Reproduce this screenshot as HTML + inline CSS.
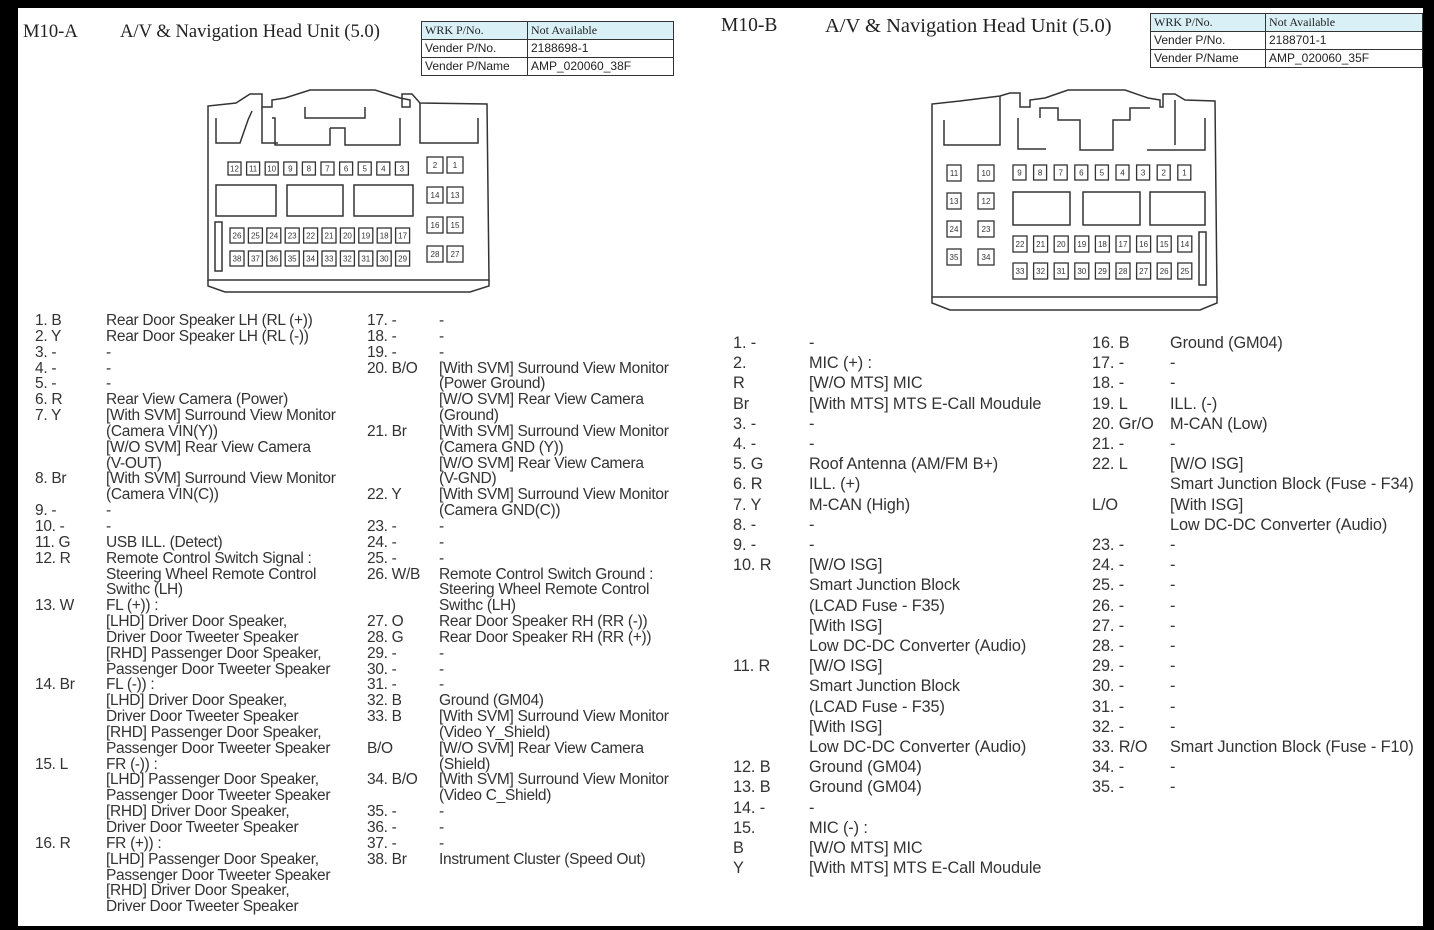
<!DOCTYPE html>
<html><head><meta charset="utf-8"><style>
body{margin:0;width:1434px;height:930px;background:#000;overflow:hidden;position:relative;font-family:"Liberation Sans",Arial,sans-serif;}
#page{position:absolute;left:18px;top:8px;width:1405px;height:918px;background:#fff;}
.t{position:absolute;white-space:pre;color:#333;}
.L{font-size:15.5px;line-height:15.85px;letter-spacing:-0.3px;}
.R{font-size:16.3px;line-height:20.2px;letter-spacing:-0.1px;}
.h{position:absolute;font-family:"Liberation Serif",serif;font-size:18.6px;color:#222;white-space:pre;}
table{position:absolute;border-collapse:collapse;font-size:12px;color:#222;}
td{border:1.5px solid #333;padding:0 3px;height:17px;line-height:15px;}
tr:first-child td{background:#d9f0f7;font-family:"Liberation Serif",serif;}
svg{position:absolute;left:0;top:0;}
</style></head><body>
<div id="page"></div>
<div class="h" style="left:23px;top:21px">M10-A</div>
<div class="h" style="left:120px;top:21px">A/V &amp; Navigation Head Unit (5.0)</div>
<table style="left:421px;top:21px;width:253px"><tr><td style="width:99px">WRK P/No.</td><td>Not Available</td></tr><tr><td>Vender P/No.</td><td>2188698-1</td></tr><tr><td>Vender P/Name</td><td>AMP_020060_38F</td></tr></table>
<div class="h" style="left:721px;top:15px;font-size:19.5px">M10-B</div>
<div class="h" style="left:825px;top:15px;font-size:20.5px">A/V &amp; Navigation Head Unit (5.0)</div>
<table style="left:1150px;top:13px;width:273px"><tr><td style="width:108px">WRK P/No.</td><td>Not Available</td></tr><tr><td>Vender P/No.</td><td>2188701-1</td></tr><tr><td>Vender P/Name</td><td>AMP_020060_35F</td></tr></table>

<svg width="1434" height="930" id="sv">
<g fill="none" stroke="#333" stroke-width="1.5">
<path d="M208,280 L208,106 L236,103 L250,94 L262,94 L262,107 L272,107 L272,100 L285,98 L310,90 L375,90 L400,98 L410,100 L410,107 L402,107 L402,94 L412,94 L420,103 L487,104 L489,280 Z"/>
<path d="M208,280 L208,286 L225,292 L470,292 L489,286 L489,280"/>
<path d="M216,118 L216,143 L240,143 L248,120 L252,111 M262,107 L262,143 L278,143 M272,118 L275,118 L275,145 L330,145 L330,128 M305,107 L305,118 L365,118 L365,107 M330,128 L345,128 L345,145 L400,145 L400,118 M420,103 L420,143 L478,143 L478,118"/>
<rect x="216" y="185" width="60" height="31"/><rect x="287" y="185" width="56" height="31"/><rect x="354" y="185" width="59" height="31"/>
<rect x="215" y="222" width="7" height="49"/>
<path d="M932,297 L932,104 L960,101 L1000,96 L1010,93 L1020,93 L1020,107 L1030,107 L1030,100 L1045,98 L1068,90 L1125,90 L1148,98 L1160,100 L1160,107 L1163,107 L1163,94 L1175,94 L1185,100 L1215,101 L1217,297 Z"/>
<path d="M932,297 L932,303 L950,310 L1200,310 L1217,303 L1217,297"/>
<path d="M944,120 L944,145 L1000,145 L1000,96 M1018,118 L1018,149 L1046,149 M1040,118 L1040,108 L1058,108 L1058,120 L1080,120 L1080,150 L1113,150 L1113,120 L1130,120 L1130,108 L1150,108 M1147,150 L1205,150 L1205,118 M1175,100 L1175,145"/>
<rect x="1013" y="192" width="57" height="33"/><rect x="1083" y="192" width="57" height="33"/><rect x="1150" y="192" width="55" height="33"/>
<rect x="1199" y="232" width="7" height="53"/>
</g>
<g id="pins" fill="none" stroke="#333" stroke-width="1.3" font-size="8" font-family="Liberation Sans" text-anchor="middle"></g>
</svg>

<div class="t L" style="left:35px;top:313px">1. B
2. Y
3. -
4. -
5. -
6. R
7. Y



8. Br

9. -
10. -
11. G
12. R


13. W




14. Br




15. L




16. R</div>
<div class="t L" style="left:106px;top:313px">Rear Door Speaker LH (RL (+))
Rear Door Speaker LH (RL (-))
-
-
-
Rear View Camera (Power)
[With SVM] Surround View Monitor
(Camera VIN(Y))
[W/O SVM] Rear View Camera
(V-OUT)
[With SVM] Surround View Monitor
(Camera VIN(C))
-
-
USB ILL. (Detect)
Remote Control Switch Signal :
Steering Wheel Remote Control
Swithc (LH)
FL (+)) :
[LHD] Driver Door Speaker,
Driver Door Tweeter Speaker
[RHD] Passenger Door Speaker,
Passenger Door Tweeter Speaker
FL (-)) :
[LHD] Driver Door Speaker,
Driver Door Tweeter Speaker
[RHD] Passenger Door Speaker,
Passenger Door Tweeter Speaker
FR (-)) :
[LHD] Passenger Door Speaker,
Passenger Door Tweeter Speaker
[RHD] Driver Door Speaker,
Driver Door Tweeter Speaker
FR (+)) :
[LHD] Passenger Door Speaker,
Passenger Door Tweeter Speaker
[RHD] Driver Door Speaker,
Driver Door Tweeter Speaker</div>
<div class="t L" style="left:367px;top:313px">17. -
18. -
19. -
20. B/O



21. Br



22. Y

23. -
24. -
25. -
26. W/B


27. O
28. G
29. -
30. -
31. -
32. B
33. B

B/O

34. B/O

35. -
36. -
37. -
38. Br</div>
<div class="t L" style="left:439px;top:313px">-
-
-
[With SVM] Surround View Monitor
(Power Ground)
[W/O SVM] Rear View Camera
(Ground)
[With SVM] Surround View Monitor
(Camera GND (Y))
[W/O SVM] Rear View Camera
(V-GND)
[With SVM] Surround View Monitor
(Camera GND(C))
-
-
-
Remote Control Switch Ground :
Steering Wheel Remote Control
Swithc (LH)
Rear Door Speaker RH (RR (-))
Rear Door Speaker RH (RR (+))
-
-
-
Ground (GM04)
[With SVM] Surround View Monitor
(Video Y_Shield)
[W/O SVM] Rear View Camera
(Shield)
[With SVM] Surround View Monitor
(Video C_Shield)
-
-
-
Instrument Cluster (Speed Out)</div>

<div class="t R" style="left:733px;top:333px">1. -
2.
R
Br
3. -
4. -
5. G
6. R
7. Y
8. -
9. -
10. R




11. R




12. B
13. B
14. -
15.
B
Y</div>
<div class="t R" style="left:809px;top:333px">-
MIC (+) :
[W/O MTS] MIC
[With MTS] MTS E-Call Moudule
-
-
Roof Antenna (AM/FM B+)
ILL. (+)
M-CAN (High)
-
-
[W/O ISG]
Smart Junction Block
(LCAD Fuse - F35)
[With ISG]
Low DC-DC Converter (Audio)
[W/O ISG]
Smart Junction Block
(LCAD Fuse - F35)
[With ISG]
Low DC-DC Converter (Audio)
Ground (GM04)
Ground (GM04)
-
MIC (-) :
[W/O MTS] MIC
[With MTS] MTS E-Call Moudule</div>
<div class="t R" style="left:1092px;top:333px">16. B
17. -
18. -
19. L
20. Gr/O
21. -
22. L

L/O

23. -
24. -
25. -
26. -
27. -
28. -
29. -
30. -
31. -
32. -
33. R/O
34. -
35. -</div>
<div class="t R" style="left:1170px;top:333px">Ground (GM04)
-
-
ILL. (-)
M-CAN (Low)
-
[W/O ISG]
Smart Junction Block (Fuse - F34)
[With ISG]
Low DC-DC Converter (Audio)
-
-
-
-
-
-
-
-
-
-
Smart Junction Block (Fuse - F10)
-
-</div>
<script>
var g=document.getElementById('pins'),NS='http://www.w3.org/2000/svg';
function pin(x,y,w,h,n){var r=document.createElementNS(NS,'rect');r.setAttribute('x',x);r.setAttribute('y',y);r.setAttribute('width',w);r.setAttribute('height',h);g.appendChild(r);
var t=document.createElementNS(NS,'text');t.setAttribute('x',x+w/2);t.setAttribute('y',y+h/2+3);t.setAttribute('fill','#333');t.setAttribute('stroke','none');t.textContent=n;g.appendChild(t);}
var i;
for(i=0;i<10;i++){pin(228+i*18.6,162,13,13,12-i);pin(230+i*18.4,228,14,15,26-i);pin(230+i*18.4,251,14,15,38-i);}
pin(427,157,16,16,2);pin(447,157,16,16,1);
pin(427,187,16,16,14);pin(447,187,16,16,13);
pin(427,217,16,16,16);pin(447,217,16,16,15);
pin(427,246,16,16,28);pin(447,246,16,16,27);
for(i=0;i<9;i++){pin(1013+i*20.6,165,13,15,9-i);pin(1013+i*20.6,236,14,16,22-i);pin(1013+i*20.6,263,14,16,33-i);}
var L=[[11,10],[13,12],[24,23],[35,34]];
for(i=0;i<4;i++){pin(947,165+i*28,14,16,L[i][0]);pin(978,165+i*28,16,16,L[i][1]);}
</script>
</body></html>
